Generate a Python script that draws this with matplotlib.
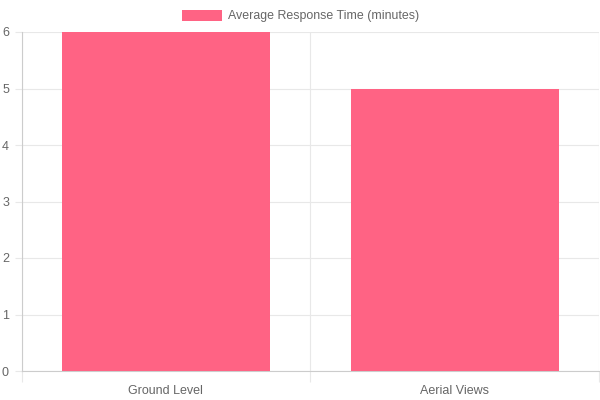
import matplotlib
matplotlib.use("Agg")
import matplotlib.pyplot as plt
from matplotlib.patches import Rectangle

categories = ["Ground Level", "Aerial Views"]
values = [6, 5]
series_label = "Average Response Time (minutes)"
y_ticks = [0, 1, 2, 3, 4, 5, 6]

bar_color = "#FF6384"
grid_color = "#e8e8e8"
text_color = "#666666"

plt.rcParams['font.family'] = ['Liberation Sans', 'DejaVu Sans']

fig = plt.figure(figsize=(6, 4), dpi=100)
ax = fig.add_axes([21.5 / 600, 29 / 400, 577.5 / 600, 339 / 400])

pos = list(range(len(categories)))
ax.bar(pos, values, width=0.72, color=bar_color, zorder=3)

ax.set_xlim(-0.5, len(categories) - 0.5)
ax.set_ylim(0, max(y_ticks))
ax.set_yticks(y_ticks)
ax.set_xticks(pos)
ax.set_xticklabels(categories)
ax.set_xticks([p - 0.5 for p in range(len(categories) + 1)], minor=True)

ax.grid(False)
ax.yaxis.grid(True, color=grid_color, linewidth=0.8, zorder=0)
ax.xaxis.grid(True, which="minor", color=grid_color, linewidth=0.8, zorder=0)

ax.tick_params(axis="x", which="major", length=0, pad=10, labelsize=9, labelcolor=text_color)
ax.tick_params(axis="x", which="minor", length=8, color=grid_color, width=0.8)
ax.tick_params(axis="y", length=5, color=grid_color, width=0.8, pad=4, labelsize=9, labelcolor=text_color)

for side in ["top", "right"]:
    ax.spines[side].set_visible(False)
for side in ["left", "bottom"]:
    ax.spines[side].set_color("#cccccc")
    ax.spines[side].set_linewidth(0.8)

# legend drawn like chart.js: box + text centred on top
fig.patches.append(Rectangle((182 / 600, 1 - 21 / 400), 40 / 600, 11 / 400,
                             transform=fig.transFigure, facecolor=bar_color,
                             edgecolor="none"))
fig.text(228 / 600, 1 - 16 / 400, series_label, ha="left", va="center",
         fontsize=8.9, color=text_color)

fig.savefig("out.png", dpi=100)
